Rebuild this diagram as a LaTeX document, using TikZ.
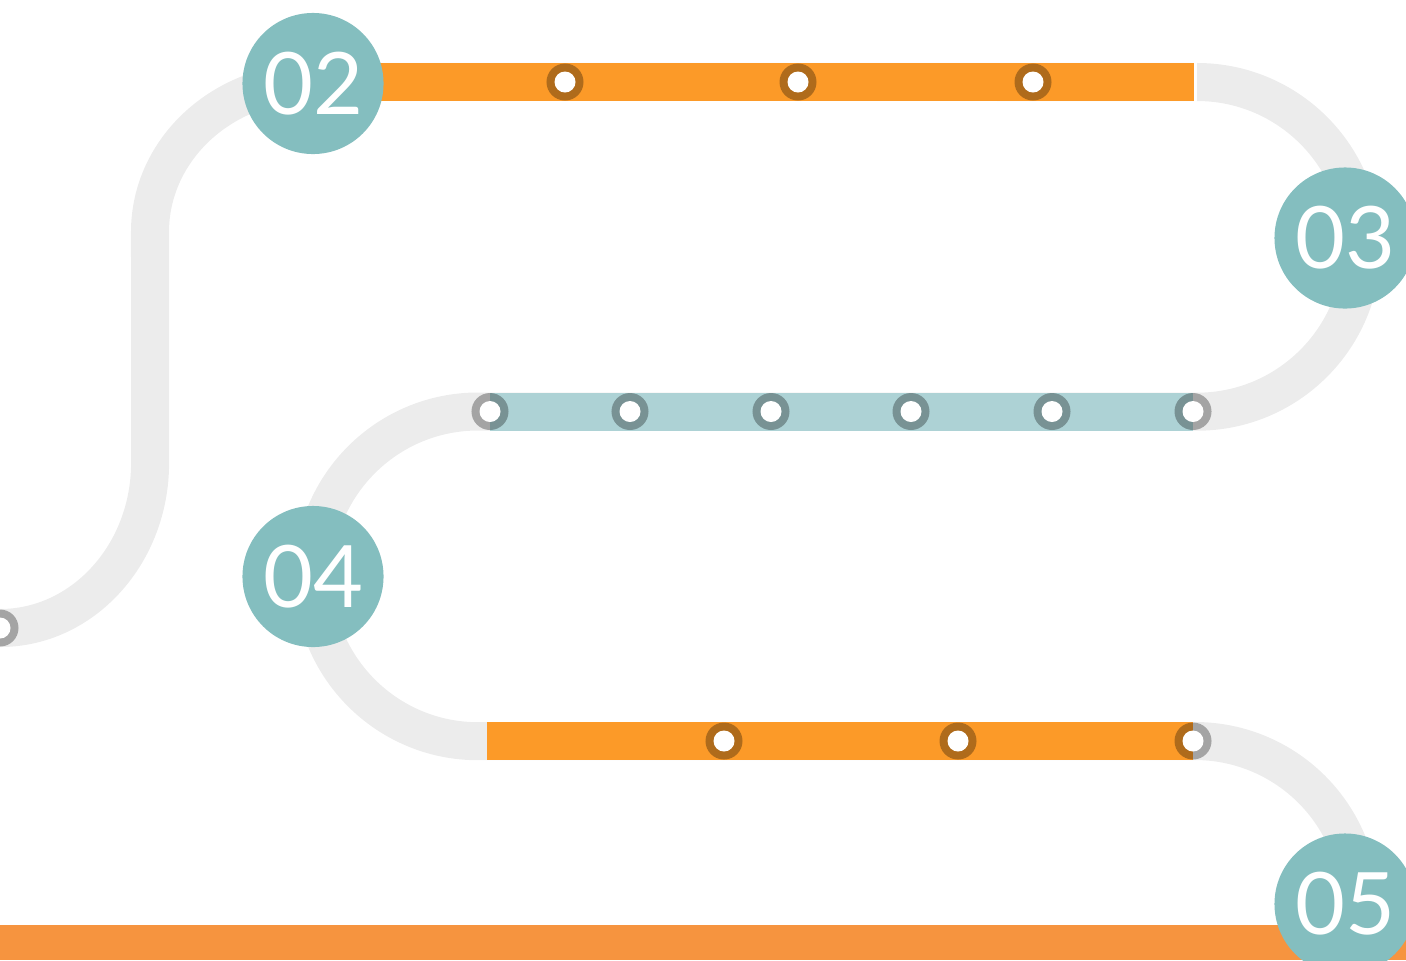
\documentclass[tikz,border=0pt]{standalone}
\usepackage{fontspec}
\newfontfamily\stopfont{Lato}
\definecolor{roadGray}{HTML}{ECECEC}
\definecolor{roadOrange}{HTML}{FC9A28}
\definecolor{roadTeal}{HTML}{ADD2D5}
\definecolor{stopTeal}{HTML}{84BEBF}
\definecolor{baseOrange}{HTML}{F6943F}

\begin{document}
\begin{tikzpicture}[
    x=0.01cm,y=-0.01cm,
    track/.style={draw=roadGray,line width=0.38cm},
    stop/.style={circle,fill=stopTeal,minimum size=1.41cm,inner sep=0pt,text=white,font=\stopfont\fontsize{24.5}{24.5}\selectfont},
    halt/.style={circle,fill=black,fill opacity=0.3,minimum size=0.37cm,inner sep=0pt,
      path picture={\fill[white,fill opacity=1] (path picture bounding box.center) circle (0.105cm);}}
]
\useasboundingbox (0,0) rectangle (1406,960);
\clip (0,0) rectangle (1406,960);
% the winding road
\draw[track] (0,628) arc[start angle=270,end angle=360,x radius=1.5cm,y radius=1.65cm]
  -- (150,232) arc[start angle=180,end angle=90,x radius=1.63cm,y radius=1.5cm]
  -- (1197,82) arc[start angle=90,end angle=-90,radius=1.6475cm]
  -- (478,411.5) arc[start angle=90,end angle=270,radius=1.6475cm]
  -- (1195,741) arc[start angle=90,end angle=-20,radius=1.65cm];
\fill[roadOrange] (313,63) rectangle (1194,101);
\fill[white] (1194,60) rectangle (1197,104);
\fill[roadTeal] (490,393) rectangle (1193,430.5);
\fill[roadOrange] (487,722) rectangle (1193,760);
\fill[baseOrange] (0,925) rectangle (1406,960);
% halts along the road
\node[halt] (start) at (0,628) {};
\foreach \x [count=\i] in {565,798,1033}
  \node[halt] (a\i) at (\x,82) {};
\foreach \x [count=\i] in {490,630,771,911,1052,1193}
  \node[halt] (b\i) at (\x,411.5) {};
\foreach \x [count=\i] in {724,958,1193}
  \node[halt] (c\i) at (\x,741) {};
% numbered stations
\node[stop] (s02) at (313,83.5) {02};
\node[stop] (s03) at (1345,238) {03};
\node[stop] (s04) at (313,576.5) {04};
\node[stop] (s05) at (1345,904) {05};
\end{tikzpicture}
\end{document}
